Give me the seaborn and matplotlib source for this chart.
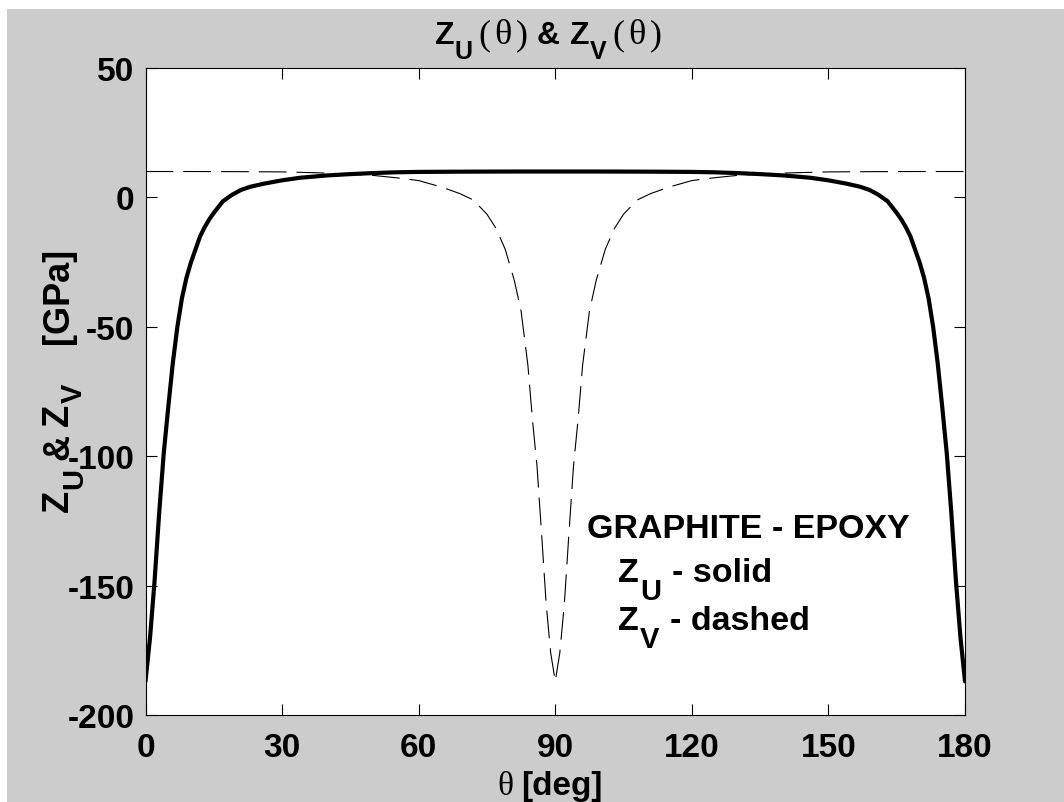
import seaborn as sns
import matplotlib.pyplot as plt
from matplotlib.patches import Rectangle

# Z_U (solid), deg / GPa
theta_u = [0, 1, 2, 3, 4, 5, 6, 7, 8, 9, 10, 11, 12, 13, 14, 15, 17, 19, 21, 23, 26, 30, 34, 40, 45, 50, 55, 60, 70, 80, 90,
           100, 110, 120, 125, 130, 135, 140, 146, 150, 154, 157, 159, 161, 163, 165, 166, 167, 168, 169, 170, 171, 172,
           173, 174, 175, 176, 177, 178, 179, 180]
z_u = [-187, -170, -148, -122, -99, -81, -64, -50, -39, -31, -25, -20, -15, -11.5, -8.5, -6, -1.5, 1.0, 2.9, 4.1, 5.3, 6.6,
       7.6, 8.5, 9.0, 9.4, 9.7, 9.85, 9.95, 10, 10,
       10, 9.95, 9.85, 9.7, 9.4, 9.0, 8.5, 7.6, 6.6, 5.3, 4.1, 2.9, 1.0, -1.5, -6, -8.5, -11.5, -15, -20, -25, -31, -39,
       -50, -64, -81, -99, -122, -148, -170, -187]

# Z_V (dashed)
theta_v = [0, 10, 20, 30, 38, 45, 50, 55, 60, 65, 69, 72, 75, 77, 79, 81, 82.5, 84, 85, 86, 87, 88, 89, 90,
           91, 92, 93, 94, 95, 96, 97.5, 99, 101, 103, 105, 108, 111, 115, 120, 125, 130, 135, 142, 150, 160, 170, 180]
z_v = [10, 10, 9.95, 9.85, 9.5, 9.0, 8.5, 7.6, 6.5, 4.0, 1.5, -1, -6.5, -12, -20, -32, -44, -65, -86, -104, -130, -157,
       -176, -187,
       -176, -157, -130, -104, -86, -65, -44, -32, -20, -12, -6.5, -1, 1.5, 4.0, 6.5, 7.6, 8.5, 9.0, 9.5, 9.85, 9.95,
       10, 10]

sns.set_style("ticks")
plt.rcParams['font.family'] = ['Liberation Sans', 'DejaVu Sans']
plt.rcParams['font.weight'] = 'bold'
plt.rcParams['text.color'] = 'k'
plt.rcParams['axes.unicode_minus'] = False

W, H = 1064, 803
fig = plt.figure(figsize=(W / 100, H / 100), dpi=100)
fig.patch.set_facecolor('white')
fig.add_artist(Rectangle((7 / W, 0), 1, 1 - 10 / H, transform=fig.transFigure,
                         facecolor='#cccccc', edgecolor='none', zorder=-5))

ax = fig.add_axes([145.5 / W, 1 - 716 / H, (965 - 145.5) / W, (716 - 69) / H])
ax.set_facecolor('white')

sns.lineplot(x=theta_v, y=z_v, ax=ax, color='k', linewidth=0.8, estimator=None, sort=False)
ax.lines[-1].set_dashes([25, 9])
sns.lineplot(x=theta_u, y=z_u, ax=ax, color='k', linewidth=3, estimator=None, sort=False)

ax.set_xlim(0, 180)
ax.set_ylim(-200, 50)
ax.set_xticks(range(0, 181, 30))
ax.set_yticks(range(-200, 51, 50))
ax.tick_params(direction='in', length=8, width=0.8, top=True, right=True,
               labelsize=24, pad=8, color='k', labelcolor='k')
ax.tick_params(axis='x', pad=12)
for s in ax.spines.values():
    s.set_color('k')
    s.set_linewidth(0.8)

renderer = fig.canvas.get_renderer()
FONTS = {'sans': ('Liberation Sans', 'bold'), 'serif': ('Liberation Serif', 'normal')}


def put_runs(x0, y0, parts, rot=0):
    # pieces of text laid one after the other; dy lowers a piece (subscripts)
    pos = x0 if rot == 0 else y0
    for s, size, dy, fam, gap in parts:
        family, weight = FONTS[fam]
        if rot == 0:
            pos += gap
            t = fig.text(pos / W, 1 - (y0 + dy) / H, s, fontsize=size, family=family, weight=weight,
                         color='k', ha='left', va='baseline')
            pos += t.get_window_extent(renderer).width
        else:
            pos -= gap
            t = fig.text((x0 + dy) / W, 1 - pos / H, s, fontsize=size, family=family, weight=weight,
                         color='k', rotation=90, rotation_mode='anchor', ha='left', va='baseline')
            pos -= t.get_window_extent(renderer).height


# title
put_runs(435, 44, [('Z', 23, 0, 'sans', 0), ('U', 18, 15, 'sans', 0),
                   ('(', 26, 0, 'serif', 6), ('θ', 26, 0, 'serif', 4), (')', 26, 0, 'serif', 4),
                   ('&', 23, 0, 'sans', 9), ('Z', 23, 0, 'sans', 10), ('V', 18, 15, 'sans', 0),
                   ('(', 26, 0, 'serif', 6), ('θ', 26, 0, 'serif', 4), (')', 26, 0, 'serif', 4)])
# x label
put_runs(497, 795, [('θ', 24, 0, 'serif', 0), ('[deg]', 24, 0, 'sans', 8)])
# y label
put_runs(68, 512, [('Z', 26, 0, 'sans', 0), ('U', 21, 14, 'sans', 1), ('&', 26, 0, 'sans', 8),
                   ('Z', 26, 0, 'sans', 8), ('V', 21, 14, 'sans', 1), ('[GPa]', 26, 0, 'sans', 39)], rot=90)
# material note
put_runs(586.7, 538.3, [('GRAPHITE - EPOXY', 24.5, 0, 'sans', 0)])
put_runs(618.3, 581.7, [('Z', 24.5, 0, 'sans', 0), ('U', 21, 18, 'sans', 1), ('- solid', 24.5, 0, 'sans', 11)])
put_runs(618.3, 630, [('Z', 24.5, 0, 'sans', 0), ('V', 21, 18, 'sans', 1), ('- dashed', 24.5, 0, 'sans', 11)])

fig.savefig('out.png', dpi=100)
